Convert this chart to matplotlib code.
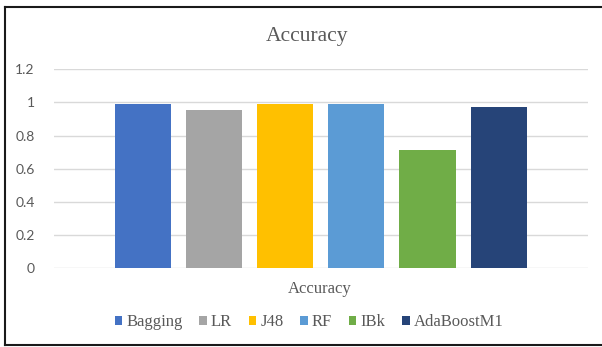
import matplotlib
matplotlib.use("Agg")
import matplotlib.pyplot as plt
from matplotlib.lines import Line2D
from matplotlib.patches import Patch

# classifier accuracy values
models = ["Bagging", "LR", "J48", "RF", "IBk", "AdaBoostM1"]
accuracy = [0.99, 0.956, 0.99, 0.99, 0.71, 0.972]
colors = ["#4472C4", "#A5A5A5", "#FFC000", "#5B9BD5", "#70AD47", "#264478"]
category = "Accuracy"
yticks = [0, 0.2, 0.4, 0.6, 0.8, 1, 1.2]
ytick_labels = ["0", "0.2", "0.4", "0.6", "0.8", "1", "1.2"]

W, H = 602, 347
fig = plt.figure(figsize=(W / 100, H / 100), dpi=100)
ax = fig.add_axes([54 / W, 1 - 268 / H, (587.7 - 54) / W, (268 - 69.3) / H])

pitch = 0.1332
width = 0.105
for i, (name, val, c) in enumerate(zip(models, accuracy, colors)):
    ax.bar((i - 2.5) * pitch, val, width, color=c, zorder=3, label=name)

ax.set_xlim(-0.5, 0.5)
ax.set_ylim(0, 1.2)
ax.set_yticks(yticks)
ax.set_yticklabels(ytick_labels, family="Lato", fontsize=10, color="#595959")
ax.set_xticks([])
ax.grid(axis="y", color="#d9d9d9", linewidth=1.0, zorder=0)
ax.tick_params(axis="y", length=0, pad=14)
for s in ax.spines.values():
    s.set_visible(False)

serif = "Liberation Serif"
fig.text(306.7 / W, 1 - 36 / H, "Accuracy", ha="center", va="center",
         family=serif, fontsize=15.5, color="#595959")
fig.text(320 / W, 1 - 289 / H, category, ha="center", va="center",
         family=serif, fontsize=12, color="#595959")

handles = [Patch(facecolor=c, edgecolor="none") for c in colors]
leg = fig.legend(handles, models, loc="center", bbox_to_anchor=(309 / W, 1 - 322.5 / H),
                 ncol=6, frameon=False, fontsize=12,
                 handlelength=0.45, handleheight=0.45,
                 handletextpad=0.25, columnspacing=1.0, borderaxespad=0)
for t in leg.get_texts():
    t.set_fontfamily(serif)
    t.set_color("#595959")

# outer frame: left, top and bottom edges
for xs, ys in [([5, 5], [7, 345]), ([5, W], [7, 7]), ([5, W], [345, 345])]:
    fig.add_artist(Line2D([x / W for x in xs], [1 - y / H for y in ys],
                          color="#1a1a1a", linewidth=1.5))

fig.savefig("out.png", dpi=100, facecolor="white")
